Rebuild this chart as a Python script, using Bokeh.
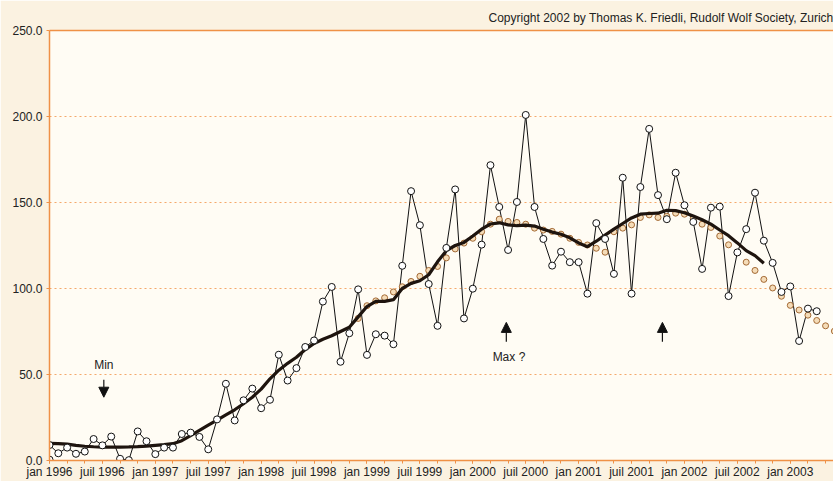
from bokeh.plotting import figure
from bokeh.models import (FixedTicker, Arrow, NormalHead, Label, Range1d,
                          NumeralTickFormatter, LinearAxis)
from bokeh.embed import file_html
from bokeh.resources import INLINE

# Monthly sunspot numbers, Jan 1996 onwards (index = months since Jan 1996)
monthly = [9.0, 4.2, 7.5, 3.9, 5.2, 12.5, 8.8, 13.9, 1.0, 0.2, 16.9, 11.2,
           3.7, 7.5, 7.5, 15.4, 16.2, 13.7, 6.5, 23.9, 44.6, 23.3, 35.0, 41.8,
           30.4, 35.3, 61.5, 46.5, 53.7, 66.0, 69.8, 92.4, 100.9, 57.4, 74.0, 99.5,
           61.4, 73.4, 72.6, 67.6, 113.2, 156.6, 136.8, 102.6, 78.3, 123.6, 157.6, 82.6,
           99.9, 125.5, 171.7, 147.4, 122.4, 150.3, 200.9, 147.4, 128.8, 113.3, 121.4, 115.3,
           115.3, 97.0, 138.0, 128.8, 108.5, 164.4, 97.0, 159.0, 192.8, 154.3, 140.3, 167.3,
           148.4, 138.7, 111.4, 147.0, 147.6, 95.6, 121.0, 134.5, 155.7, 127.8, 114.9, 98.0,
           101.2, 69.5, 88.3, 86.8]
months = list(range(len(monthly)))

# Smoothed monthly mean (thick line)
smoothed = [10.0, 9.8, 9.5, 8.8, 8.3, 8.0, 7.8, 7.8, 7.8, 7.9, 8.1, 8.4,
            8.8, 9.2, 9.8, 11.5, 14.5, 17.5, 20.5, 23.5, 26.5, 29.5, 33.0, 36.8,
            41.5, 47.5, 52.5, 56.5, 60.0, 64.5, 68.0, 70.5, 72.5, 75.0, 77.5, 83.5,
            89.5, 92.5, 92.5, 93.5, 100.0, 103.0, 104.5, 108.0, 115.5, 122.0, 125.0, 126.8,
            130.5, 134.5, 137.5, 138.2, 137.0, 136.5, 136.8, 136.3, 134.5, 132.8, 131.5, 129.5,
            126.5, 124.3, 127.5, 131.0, 134.5, 137.8, 141.0, 143.2, 143.6, 143.8, 145.5, 145.3,
            144.0, 142.2, 140.0, 137.4, 134.0, 130.7, 126.5, 122.0, 119.1, 114.7]
smooth_months = list(range(len(smoothed)))

# Second smoothed / forecast series (brown dotted circles), from Dec 1998
forecast_first_month = 35
forecast = [82.6, 90.0, 92.8, 94.6, 98.0, 101.0, 104.1, 107.1, 110.5, 112.8, 117.8, 123.0,
            126.4, 129.2, 133.0, 137.4, 140.3, 139.0, 138.4, 137.4, 135.1, 134.0, 133.2, 131.6,
            129.2, 126.8, 125.3, 123.4, 121.1, 133.0, 135.1, 137.0, 141.3, 142.8, 141.3, 142.0,
            143.8, 143.2, 140.5, 137.4, 135.5, 130.5, 125.4, 120.9, 115.3, 110.5, 105.3, 100.3,
            95.5, 90.2, 87.5, 84.5, 81.4, 78.3, 75.2]
forecast_months = list(range(forecast_first_month, forecast_first_month + len(forecast)))

extra_month = [0]
extra_value = [0.5]

tick_months = list(range(0, 85, 6))
tick_labels = ["jan 1996", "juil 1996", "jan 1997", "juil 1997", "jan 1998", "juil 1998",
               "jan 1999", "juil 1999", "jan 2000", "juil 2000", "jan 2001", "juil 2001",
               "jan 2002", "juil 2002", "jan 2003"]
minor_months = list(range(0, 89, 2))
y_ticks = [0, 50, 100, 150, 200, 250]

FONT = "Liberation Sans"
ORANGE = "#ef9146"
GRID = "#f4a96b"

p = figure(width=833, height=481, output_backend="svg", toolbar_location=None,
           x_range=Range1d(0, 88.9), y_range=Range1d(0, 250),
           min_border_left=49, min_border_right=0, min_border_top=30, min_border_bottom=0)

p.background_fill_color = "#fffcf4"
p.border_fill_color = "#fbf2e1"
p.outline_line_color = None

p.title.text = "Copyright 2002 by Thomas K. Friedli, Rudolf Wolf Society, Zurich"
p.title.align = "right"
p.title.text_font = FONT
p.title.text_font_size = "12px"
p.title.text_font_style = "normal"
p.title.text_color = "#222222"
p.title.standoff = 11

# bottom / left axes (configure before adding the top border axis)
xa = p.below[0]
ya = p.left[0]

top_axis = LinearAxis(ticker=FixedTicker(ticks=[]), axis_line_color=ORANGE,
                      axis_line_width=1.5, major_tick_line_color=None,
                      major_tick_out=0, major_tick_in=0, major_label_standoff=0,
                      minor_tick_line_color=None, minor_tick_out=0, minor_tick_in=0,
                      major_label_text_font_size="0px")
p.add_layout(top_axis, "above")

xa.ticker = FixedTicker(ticks=tick_months, minor_ticks=minor_months)
xa.major_label_overrides = {m: lab for m, lab in zip(tick_months, tick_labels)}
xa.axis_line_color = ORANGE
xa.axis_line_width = 1.5
xa.major_tick_line_color = ORANGE
xa.minor_tick_line_color = ORANGE
xa.major_tick_in = 0
xa.major_tick_out = 3
xa.minor_tick_in = 0
xa.minor_tick_out = 3
xa.major_label_standoff = 1
xa.major_label_text_font = FONT
xa.major_label_text_font_size = "12px"
xa.major_label_text_color = "#222222"

ya.ticker = FixedTicker(ticks=y_ticks)
ya.formatter = NumeralTickFormatter(format="0.0")
ya.axis_line_color = ORANGE
ya.axis_line_width = 1.5
ya.major_tick_line_color = ORANGE
ya.major_tick_in = 0
ya.major_tick_out = 3
ya.minor_tick_line_color = None
ya.major_label_standoff = 4
ya.major_label_text_font = FONT
ya.major_label_text_font_size = "12px"
ya.major_label_text_color = "#222222"

p.xgrid.grid_line_color = None
p.ygrid.ticker = FixedTicker(ticks=[50, 100, 150, 200])
p.ygrid.grid_line_color = GRID
p.ygrid.grid_line_dash = "2 3"
p.ygrid.grid_line_width = 1

# data
p.line(months, monthly, line_color="#111111", line_width=1)
p.scatter(forecast_months, forecast, size=6, fill_color="#f5dcb8",
          line_color="#a46a35", line_width=1)
p.line(smooth_months, smoothed, line_color="#1e140e", line_width=3.2)
p.scatter(months, monthly, size=7, fill_color="white", line_color="#111111", line_width=1)
p.scatter(extra_month, extra_value, size=7, fill_color="white", line_color="#111111", line_width=1)

# annotations
def arrow(x, y0, y1):
    p.add_layout(Arrow(end=NormalHead(size=10, fill_color="#111111", line_color="#111111"),
                       x_start=x, y_start=y0, x_end=x, y_end=y1,
                       line_color="#111111", line_width=1.2))

arrow(6.16, 46.9, 36.8)
arrow(51.8, 69.1, 80.3)
arrow(69.5, 69.1, 80.3)

p.add_layout(Label(x=6.16, y=55.6, text="Min", text_align="center", text_baseline="middle",
                   text_font=FONT, text_font_size="12px", text_color="#222222"))
p.add_layout(Label(x=52.1, y=60.0, text="Max ?", text_align="center", text_baseline="middle",
                   text_font=FONT, text_font_size="12px", text_color="#222222"))

open("out.html", "w").write(file_html(p, INLINE))
